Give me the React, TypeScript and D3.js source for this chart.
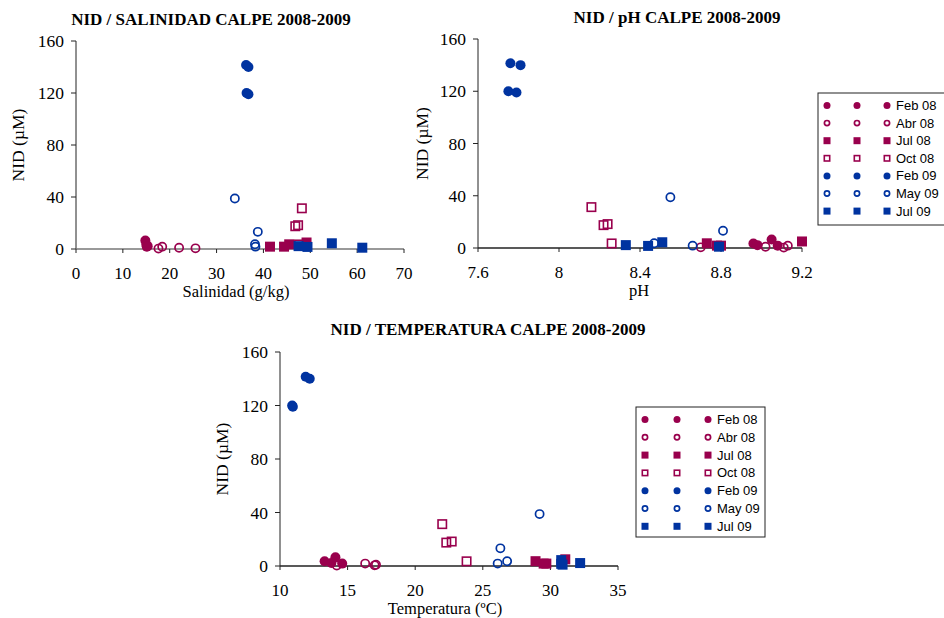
import React from "react";
import * as d3 from "d3";

// ---- data (one entry per sample) ----
const seriesNames = ["Feb 08", "Abr 08", "Jul 08", "Oct 08", "Feb 09", "May 09", "Jul 09"];
const sampleSeries = [
  "Feb 08", "Feb 08", "Feb 08", "Feb 08",
  "Abr 08", "Abr 08", "Abr 08", "Abr 08",
  "Jul 08", "Jul 08", "Jul 08", "Jul 08",
  "Oct 08", "Oct 08", "Oct 08", "Oct 08",
  "Feb 09", "Feb 09", "Feb 09", "Feb 09",
  "May 09", "May 09", "May 09", "May 09",
  "Jul 09", "Jul 09", "Jul 09", "Jul 09",
];
const nid = [
  6.5, 3.5, 2.2, 1.8,
  1.8, 1.0, 0.5, 0.3,
  5.0, 3.6, 1.8, 1.8,
  31.3, 17.5, 18.3, 3.5,
  141.5, 140, 120, 119,
  38.8, 13.2, 3.6, 1.8,
  4.4, 2.2, 1.6, 1.0,
];
const salinidad = [
  14.8, 15.0, 15.3, 15.1,
  18.4, 22.0, 25.5, 17.6,
  49.2, 45.5, 41.4, 44.4,
  48.2, 46.8, 47.4, 47.6,
  36.3, 36.8, 36.4, 36.8,
  33.9, 38.8, 38.2, 38.3,
  54.6, 47.5, 49.4, 61.1,
];
const ph = [
  9.05, 8.96, 8.98, 9.08,
  9.13, 9.02, 8.70, 9.11,
  9.20, 8.73, 8.80, 8.78,
  8.16, 8.22, 8.24, 8.26,
  7.76, 7.81, 7.75, 7.79,
  8.55, 8.81, 8.47, 8.66,
  8.51, 8.33, 8.44, 8.79,
];
const temperatura = [
  14.1, 13.3, 13.8, 14.6,
  16.3, 17.1, 17.0, 14.2,
  31.1, 28.9, 29.7, 29.5,
  22.0, 22.3, 22.7, 23.8,
  11.9, 12.2, 10.9, 10.95,
  29.2, 26.3, 26.8, 26.1,
  30.8, 32.2, 30.8, 30.9,
];
const yTicks = [0, 40, 80, 120, 160];
const salTicks = [0, 10, 20, 30, 40, 50, 60, 70];
const phTicks = [7.6, 8, 8.4, 8.8, 9.2];
const tempTicks = [10, 15, 20, 25, 30, 35];

const MAG = "#99004D";
const BLUE = "#0033A0";
const styleOf: Record<string, { color: string; shape: "circle" | "square"; filled: boolean }> = {
  "Feb 08": { color: MAG, shape: "circle", filled: true },
  "Abr 08": { color: MAG, shape: "circle", filled: false },
  "Jul 08": { color: MAG, shape: "square", filled: true },
  "Oct 08": { color: MAG, shape: "square", filled: false },
  "Feb 09": { color: BLUE, shape: "circle", filled: true },
  "May 09": { color: BLUE, shape: "circle", filled: false },
  "Jul 09": { color: BLUE, shape: "square", filled: true },
};

const SERIF = "'Liberation Serif', 'Times New Roman', serif";
const SANS = "'Liberation Sans', Arial, sans-serif";

function Marker({ x, y, name, size }: { x: number; y: number; name: string; size: number }) {
  const s = styleOf[name];
  if (s.shape === "circle") {
    return s.filled ? (
      <circle cx={x} cy={y} r={size / 2} fill={s.color} />
    ) : (
      <circle cx={x} cy={y} r={size / 2 - 0.9} fill="none" stroke={s.color} strokeWidth={1.7} />
    );
  }
  return s.filled ? (
    <rect x={x - size / 2} y={y - size / 2} width={size} height={size} fill={s.color} />
  ) : (
    <rect x={x - size / 2 + 0.8} y={y - size / 2 + 0.8} width={size - 1.6} height={size - 1.6} fill="none" stroke={s.color} strokeWidth={1.6} />
  );
}

type PanelProps = {
  left: number; right: number; top: number; bottom: number;
  xDomain: [number, number]; xTicks: number[]; xValues: number[];
  title: string; titleX: number; titleY: number;
  xLabel: string; xLabelX: number; xLabelY: number;
  yLabelX: number; xAxisColor: string;
  fmt: (v: number) => string;
};

function Panel(p: PanelProps) {
  const x = d3.scaleLinear().domain(p.xDomain).range([p.left, p.right]);
  const y = d3.scaleLinear().domain([0, 160]).range([p.bottom, p.top]);
  const order = d3.range(nid.length);
  return (
    <g>
      <text x={p.titleX} y={p.titleY} textAnchor="middle" fontFamily={SERIF} fontWeight="bold" fontSize={17}>{p.title}</text>
      {/* y axis */}
      <line x1={p.left} x2={p.left} y1={y(160)} y2={y(0)} stroke="#222" strokeWidth={1} />
      {yTicks.map((t) => (
        <g key={"y" + t}>
          <line x1={p.left - 5} x2={p.left} y1={y(t)} y2={y(t)} stroke="#222" />
          <text x={p.left - 12} y={y(t)} dy="0.35em" textAnchor="end" fontFamily={SERIF} fontSize={17.5}>{t}</text>
        </g>
      ))}
      {/* x axis */}
      <line x1={p.left} x2={p.right} y1={y(0)} y2={y(0)} stroke={p.xAxisColor} strokeWidth={1.3} />
      {p.xTicks.map((t) => (
        <g key={"x" + t}>
          <line x1={x(t)} x2={x(t)} y1={y(0)} y2={y(0) + 4} stroke="#222" />
          <text x={x(t)} y={y(0) + 30} textAnchor="middle" fontFamily={SERIF} fontSize={17}>{p.fmt(t)}</text>
        </g>
      ))}
      <text x={p.xLabelX} y={p.xLabelY} textAnchor="middle" fontFamily={SERIF} fontSize={16.5}>{p.xLabel}</text>
      <text transform={`translate(${p.yLabelX},${(p.top + p.bottom) / 2}) rotate(-90)`} textAnchor="middle" dy="0.35em" fontFamily={SERIF} fontSize={17.5}>NID (µM)</text>
      {order.map((i) => (
        <Marker key={i} x={x(p.xValues[i])} y={y(nid[i])} name={sampleSeries[i]} size={10} />
      ))}
    </g>
  );
}

function Legend({ x0, y0, w, h, mx, tx, ry, step }: { x0: number; y0: number; w: number; h: number; mx: number[]; tx: number; ry: number; step: number }) {
  return (
    <g>
      <rect x={x0} y={y0} width={w} height={h} fill="white" stroke="#222" strokeWidth={1} />
      {seriesNames.map((n, i) => (
        <g key={n}>
          {mx.map((m) => (
            <Marker key={m} x={m} y={ry + i * step} name={n} size={7} />
          ))}
          <text x={tx} y={ry + i * step} dy="0.35em" fontFamily={SANS} fontSize={13}>{n}</text>
        </g>
      ))}
    </g>
  );
}

export default function App() {
  return (
    <svg width={944} height={618} style={{ position: "absolute", left: 0, top: 0, background: "white" }}>
      <Panel left={76} right={404} top={41} bottom={249} xDomain={[0, 70]} xTicks={salTicks} xValues={salinidad}
        title="NID / SALINIDAD CALPE 2008-2009" titleX={211} titleY={25}
        xLabel="Salinidad (g/kg)" xLabelX={236} xLabelY={297} yLabelX={18} xAxisColor="#777"
        fmt={(v) => String(v)} />
      <Panel left={478} right={802} top={39} bottom={248} xDomain={[7.6, 9.2]} xTicks={phTicks} xValues={ph}
        title="NID / pH CALPE 2008-2009" titleX={677} titleY={23}
        xLabel="pH" xLabelX={639} xLabelY={296} yLabelX={422} xAxisColor="#222"
        fmt={(v) => String(v)} />
      <Panel left={280} right={618} top={352} bottom={566} xDomain={[10, 35]} xTicks={tempTicks} xValues={temperatura}
        title="NID / TEMPERATURA CALPE 2008-2009" titleX={488} titleY={335}
        xLabel="Temperatura (ºC)" xLabelX={445} xLabelY={614} yLabelX={222} xAxisColor="#222"
        fmt={(v) => String(v)} />
      <Legend x0={818} y0={93} w={140} h={132} mx={[827, 857, 887]} tx={896} ry={105.5} step={17.6} />
      <Legend x0={636} y0={407} w={129} h={130} mx={[645, 677, 708]} tx={717} ry={419.5} step={17.8} />
    </svg>
  );
}
